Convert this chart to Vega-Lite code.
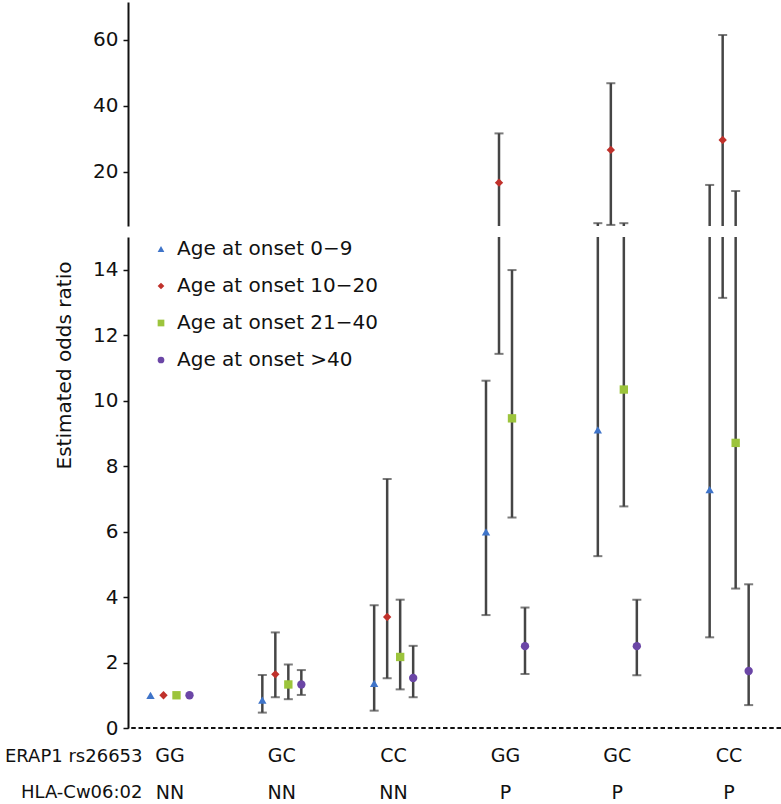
{
  "$schema": "https://vega.github.io/schema/vega-lite/v6.json",
  "padding": {"left": 4, "top": 2, "right": 0, "bottom": 0},
  "background": "white",
  "bounds": "flush",
  "spacing": 11,
  "datasets": {
    "or": [
      {"group": "GG NN", "age": "Age at onset 0−9", "or": 1.0, "lo": null, "hi": null},
      {"group": "GG NN", "age": "Age at onset 10−20", "or": 1.0, "lo": null, "hi": null},
      {"group": "GG NN", "age": "Age at onset 21−40", "or": 1.0, "lo": null, "hi": null},
      {"group": "GG NN", "age": "Age at onset >40", "or": 1.0, "lo": null, "hi": null},
      {"group": "GC NN", "age": "Age at onset 0−9", "or": 0.85, "lo": 0.47, "hi": 1.62},
      {"group": "GC NN", "age": "Age at onset 10−20", "or": 1.64, "lo": 0.94, "hi": 2.92},
      {"group": "GC NN", "age": "Age at onset 21−40", "or": 1.33, "lo": 0.88, "hi": 1.94},
      {"group": "GC NN", "age": "Age at onset >40", "or": 1.33, "lo": 1.01, "hi": 1.77},
      {"group": "CC NN", "age": "Age at onset 0−9", "or": 1.36, "lo": 0.53, "hi": 3.75},
      {"group": "CC NN", "age": "Age at onset 10−20", "or": 3.39, "lo": 1.52, "hi": 7.61},
      {"group": "CC NN", "age": "Age at onset 21−40", "or": 2.17, "lo": 1.18, "hi": 3.92},
      {"group": "CC NN", "age": "Age at onset >40", "or": 1.53, "lo": 0.94, "hi": 2.51},
      {"group": "GG P", "age": "Age at onset 0−9", "or": 5.99, "lo": 3.45, "hi": 10.61},
      {"group": "GG P", "age": "Age at onset 10−20", "or": 18.99, "lo": 11.43, "hi": 31.6},
      {"group": "GG P", "age": "Age at onset 21−40", "or": 9.46, "lo": 6.43, "hi": 13.99},
      {"group": "GG P", "age": "Age at onset >40", "or": 2.5, "lo": 1.65, "hi": 3.68},
      {"group": "GC P", "age": "Age at onset 0−9", "or": 9.11, "lo": 5.25, "hi": 15.26},
      {"group": "GC P", "age": "Age at onset 10−20", "or": 26.6, "lo": 15.1, "hi": 46.8},
      {"group": "GC P", "age": "Age at onset 21−40", "or": 10.34, "lo": 6.77, "hi": 15.26},
      {"group": "GC P", "age": "Age at onset >40", "or": 2.5, "lo": 1.61, "hi": 3.92},
      {"group": "CC P", "age": "Age at onset 0−9", "or": 7.28, "lo": 2.77, "hi": 18.78},
      {"group": "CC P", "age": "Age at onset 10−20", "or": 29.6, "lo": 13.14, "hi": 61.4},
      {"group": "CC P", "age": "Age at onset 21−40", "or": 8.71, "lo": 4.26, "hi": 18.22},
      {"group": "CC P", "age": "Age at onset >40", "or": 1.74, "lo": 0.7, "hi": 4.39}
    ],
    "labels": [
      {"group": "GG NN", "row": "ERAP1 rs26653", "label": "GG"},
      {"group": "GC NN", "row": "ERAP1 rs26653", "label": "GC"},
      {"group": "CC NN", "row": "ERAP1 rs26653", "label": "CC"},
      {"group": "GG P", "row": "ERAP1 rs26653", "label": "GG"},
      {"group": "GC P", "row": "ERAP1 rs26653", "label": "GC"},
      {"group": "CC P", "row": "ERAP1 rs26653", "label": "CC"},
      {"group": "GG NN", "row": "HLA-Cw06:02", "label": "NN"},
      {"group": "GC NN", "row": "HLA-Cw06:02", "label": "NN"},
      {"group": "CC NN", "row": "HLA-Cw06:02", "label": "NN"},
      {"group": "GG P", "row": "HLA-Cw06:02", "label": "P"},
      {"group": "GC P", "row": "HLA-Cw06:02", "label": "P"},
      {"group": "CC P", "row": "HLA-Cw06:02", "label": "P"}
    ]
  },
  "vconcat": [
    {
      "width": 653,
      "height": 224,
      "data": {"name": "or"},
      "encoding": {
        "x": {"field": "group", "type": "nominal", "axis": null, "scale": {"type": "band", "domain": ["GG NN", "GC NN", "CC NN", "GG P", "GC P", "CC P"], "range": [-14, 657], "paddingInner": 0, "paddingOuter": 0}},
        "xOffset": {"field": "age", "type": "nominal", "scale": {"domain": ["Age at onset 0−9", "Age at onset 10−20", "Age at onset 21−40", "Age at onset >40"], "range": [30, 82], "paddingInner": 0, "paddingOuter": 0}}
      },
      "layer": [
        {
          "mark": {"type": "rule", "clip": true, "color": "#454545", "strokeWidth": 2.5},
          "encoding": {
            "y": {"field": "lo", "type": "quantitative", "scale": {"domain": [15, 20, 71.4], "range": [224, 169.7, 0], "zero": false, "nice": false}, "axis": {"values": [20, 40, 60], "title": null}},
            "y2": {"field": "hi"}
          }
        },
        {
          "mark": {"type": "tick", "clip": true, "color": "#454545", "thickness": 2, "size": 9},
          "encoding": {"y": {"field": "hi", "type": "quantitative"}}
        },
        {
          "mark": {"type": "tick", "clip": true, "color": "#454545", "thickness": 2, "size": 9},
          "encoding": {"y": {"field": "lo", "type": "quantitative"}}
        },
        {
          "mark": {"type": "point", "clip": true, "filled": true, "opacity": 1, "size": 70},
          "encoding": {
            "y": {"field": "or", "type": "quantitative"},
            "color": {"field": "age", "type": "nominal", "scale": {"domain": ["Age at onset 0−9", "Age at onset 10−20", "Age at onset 21−40", "Age at onset >40"], "range": ["#3f74c9", "#c0312b", "#9cc43c", "#6b46a6"]}, "legend": {"orient": "none", "legendX": 23, "legendY": 237, "title": null}},
            "shape": {"field": "age", "type": "nominal", "scale": {"domain": ["Age at onset 0−9", "Age at onset 10−20", "Age at onset 21−40", "Age at onset >40"], "range": ["triangle-up", "diamond", "square", "circle"]}, "legend": {"orient": "none", "legendX": 23, "legendY": 237, "title": null}}
          }
        }
      ]
    },
    {
      "width": 653,
      "height": 491,
      "layer": [
        {
          "data": {"values": [{"zero": 0}]},
          "mark": {"type": "rule", "color": "#111111", "strokeWidth": 2, "strokeDash": [4.5, 2.75]},
          "encoding": {"y": {"field": "zero", "type": "quantitative", "scale": {"domain": [0, 15], "zero": true, "nice": false}, "axis": {"values": [0, 2, 4, 6, 8, 10, 12, 14], "title": "Estimated odds ratio", "titleX": -64, "titleY": 128, "titleAngle": -90, "titleAlign": "center", "titleBaseline": "middle"}}}
        },
        {
          "data": {"name": "or"},
          "encoding": {
            "x": {"field": "group", "type": "nominal", "axis": null, "scale": {"type": "band", "domain": ["GG NN", "GC NN", "CC NN", "GG P", "GC P", "CC P"], "range": [-14, 657], "paddingInner": 0, "paddingOuter": 0}},
            "xOffset": {"field": "age", "type": "nominal", "scale": {"domain": ["Age at onset 0−9", "Age at onset 10−20", "Age at onset 21−40", "Age at onset >40"], "range": [30, 82], "paddingInner": 0, "paddingOuter": 0}}
          },
          "layer": [
            {
              "mark": {"type": "rule", "clip": true, "color": "#454545", "strokeWidth": 2.5},
              "encoding": {"y": {"field": "lo", "type": "quantitative"}, "y2": {"field": "hi"}}
            },
            {
              "mark": {"type": "tick", "clip": true, "color": "#454545", "thickness": 2, "size": 9},
              "encoding": {"y": {"field": "hi", "type": "quantitative"}}
            },
            {
              "mark": {"type": "tick", "clip": true, "color": "#454545", "thickness": 2, "size": 9},
              "encoding": {"y": {"field": "lo", "type": "quantitative"}}
            },
            {
              "mark": {"type": "point", "clip": true, "filled": true, "opacity": 1, "size": 70},
              "encoding": {
                "y": {"field": "or", "type": "quantitative"},
                "color": {"field": "age", "type": "nominal", "scale": {"domain": ["Age at onset 0−9", "Age at onset 10−20", "Age at onset 21−40", "Age at onset >40"], "range": ["#3f74c9", "#c0312b", "#9cc43c", "#6b46a6"]}, "legend": {"orient": "none", "legendX": 23, "legendY": 237, "title": null}},
                "shape": {"field": "age", "type": "nominal", "scale": {"domain": ["Age at onset 0−9", "Age at onset 10−20", "Age at onset 21−40", "Age at onset >40"], "range": ["triangle-up", "diamond", "square", "circle"]}, "legend": {"orient": "none", "legendX": 23, "legendY": 237, "title": null}}
              }
            }
          ]
        }
      ]
    },
    {
      "width": 653,
      "height": 71,
      "data": {"name": "labels"},
      "mark": {"type": "text", "fontSize": 19, "font": "DejaVu Sans", "color": "#111111", "baseline": "middle"},
      "encoding": {
        "x": {"field": "group", "type": "nominal", "axis": null, "scale": {"type": "band", "domain": ["GG NN", "GC NN", "CC NN", "GG P", "GC P", "CC P"], "range": [-14, 657], "paddingInner": 0, "paddingOuter": 0}},
        "y": {"field": "row", "type": "nominal", "scale": {"type": "point", "domain": ["ERAP1 rs26653", "HLA-Cw06:02"], "padding": 0.46}, "axis": {"title": null, "domain": false, "ticks": false, "labelPadding": 0, "offset": -14, "labelFontSize": 18}},
        "text": {"field": "label"}
      }
    }
  ],
  "resolve": {"scale": {"x": "independent", "y": "independent", "xOffset": "independent"}},
  "config": {
    "view": {"stroke": null},
    "font": "DejaVu Sans",
    "axis": {
      "labelFont": "DejaVu Sans",
      "labelFontSize": 20,
      "labelColor": "#111111",
      "titleFont": "DejaVu Sans",
      "titleFontSize": 20,
      "titleFontWeight": "normal",
      "titleColor": "#111111",
      "domainColor": "#111111",
      "domainWidth": 2,
      "tickColor": "#111111",
      "tickWidth": 1.5,
      "tickSize": 5,
      "labelPadding": 5,
      "grid": false
    },
    "legend": {
      "labelFont": "DejaVu Sans",
      "labelFontSize": 20,
      "labelColor": "#111111",
      "labelLimit": 0,
      "symbolSize": 45,
      "symbolStrokeWidth": 0,
      "rowPadding": 17,
      "labelOffset": 6,
      "padding": 0
    }
  }
}
